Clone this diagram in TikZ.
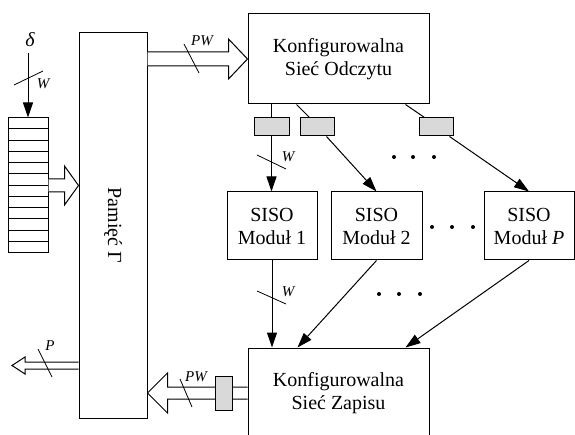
\documentclass[tikz,border=0pt]{standalone}
\usepackage{fontspec}
\setmainfont{Liberation Serif}
\usetikzlibrary{arrows.meta,calc}
\tikzset{
  boxln/.style={draw, line width=1pt, inner sep=0pt, align=center, font=\fontsize{20}{23}\selectfont},
  regbox/.style={draw, line width=1pt, fill=gray!30, inner sep=0pt},
  txt/.style={inner sep=0pt, font=\fontsize{20}{23}\selectfont},
  arrln/.style={-{Triangle[length=15pt,width=10pt]}, line width=1pt},
  plainln/.style={line width=1pt},
  fatln/.style={draw, fill=white, line width=1pt, line join=miter},
  slashln/.style={line width=0.8pt},
  buslbl/.style={inner sep=0pt, font=\fontsize{15}{17}\selectfont\itshape},
}
% wide hollow bus arrow: start, tip, shaft half, head half, head length
\newcommand{\fatarr}[5]{%
  \draw[fatln] let \p1=#1, \p2=#2 in
    (\x1,{\y1+#3}) -- ({\x2-(#5)},{\y1+#3}) -- ({\x2-(#5)},{\y1+#4}) -- (\x2,\y1)
    -- ({\x2-(#5)},{\y1-#4}) -- ({\x2-(#5)},{\y1-#3}) -- (\x1,{\y1-#3});
}
% bus width slash
\newcommand{\busmark}[2]{%
  \draw[slashln] ($#1-(#2)$) -- ($#1+(#2)$);
}

\begin{document}
\begin{tikzpicture}[x=1pt, y=-1pt]
    \useasboundingbox (0,0) rectangle (575,435);
    % memory
    \node[boxln, minimum width=68pt, minimum height=385pt] (mem) at (113,225.5) {};
    \node[txt, rotate=-90] (memlbl) at (mem.center) {Pamięć Γ};
    % input register
    \node[boxln, minimum width=40pt, minimum height=135pt] (reg) at (28,185.5) {};
    \foreach \i in {1,...,11}
      \draw[line width=0.8pt] ([yshift=-\i*11.25pt]reg.north west) -- ([yshift=-\i*11.25pt]reg.north east);
    \node[txt, font=\fontsize{20}{23}\selectfont\itshape] (delta) at (30,40) {δ};
    \coordinate (din) at (28,53);
    \draw[arrln] (din) -- (reg.north);
    % networks
    \node[boxln, minimum width=181pt, minimum height=90pt] (rd) at (338.5,59) {Konfigurowalna\\Sieć Odczytu};
    \node[boxln, minimum width=181pt, minimum height=90pt] (wr) at (338.5,393) {Konfigurowalna\\Sieć Zapisu};
    % SISO modules
    \node[boxln, minimum width=90pt, minimum height=68pt] (s1) at (272,226) {SISO\\Moduł 1};
    \node[boxln, minimum width=91pt, minimum height=68pt] (s2) at (376.5,226) {SISO\\Moduł 2};
    \node[boxln, minimum width=90pt, minimum height=68pt] (sP) at (529,226) {SISO\\Moduł \textit{P}};
    % pipeline registers
    \node[regbox, minimum width=35pt, minimum height=18pt] (g1) at (271.5,127) {};
    \node[regbox, minimum width=34pt, minimum height=18pt] (g2) at (317,127) {};
    \node[regbox, minimum width=34pt, minimum height=18pt] (g3) at (436,127) {};
    \draw[plainln] (g1.north |- rd.south) -- (g1.north);
    \draw[plainln] ([xshift=49pt]rd.south west) -- ([xshift=10pt]g2.north west);
    \draw[plainln] ([xshift=158pt]rd.south west) -- ([xshift=6pt]g3.north west);
    \draw[arrln] (g1.south) -- (g1.south |- s1.north);
    \draw[arrln] ([xshift=-8pt]g2.south east) -- (s2.north);
    \draw[arrln] ([xshift=-4pt]g3.south east) -- (sP.north);
    \draw[arrln] (s1.south) -- (s1.south |- wr.north);
    \draw[arrln] (s2.south) -- ([xshift=50pt]wr.north west);
    \draw[arrln] (sP.south) -- ([xshift=158pt]wr.north west);
    % buses
    \fatarr{(mem.east |- rd.west)}{(rd.west)}{7}{20}{19}
    \fatarr{(reg.east)}{(reg.east -| mem.west)}{6.5}{19.5}{14}
    \coordinate (pout) at (12,365.5);
    \fatarr{(pout -| mem.west)}{(pout)}{3.5}{8.5}{-13}
    \fatarr{(wr.west)}{(wr.west -| mem.east)}{6}{20}{-20}
    \node[regbox, minimum width=17pt, minimum height=34pt] (gw) at (223.5,393) {};
    % bus widths
    \busmark{(28.5,78)}{14.5,-7}
    \node[buslbl] (wd) at (43,84) {W};
    \busmark{(271.5,162)}{14.5,7}
    \node[buslbl] (w1) at (288,157) {W};
    \busmark{(271.5,297.5)}{14.5,6.5}
    \node[buslbl] (w2) at (288,292) {W};
    \busmark{(191.5,58.5)}{7.5,14.5}
    \node[buslbl] (pwr) at (202,41) {PW};
    \busmark{(186,393)}{6,14}
    \node[buslbl] (pww) at (196,377) {PW};
    \busmark{(45,363)}{7,14}
    \node[buslbl] (plbl) at (50,346) {P};
    % dots
    \foreach \x/\y in {394/157,413/157,434/157,432/227,452/227,473/227,379/294,399/294,420/294}
      \fill (\x,\y) circle (2pt);
\end{tikzpicture}
\end{document}
